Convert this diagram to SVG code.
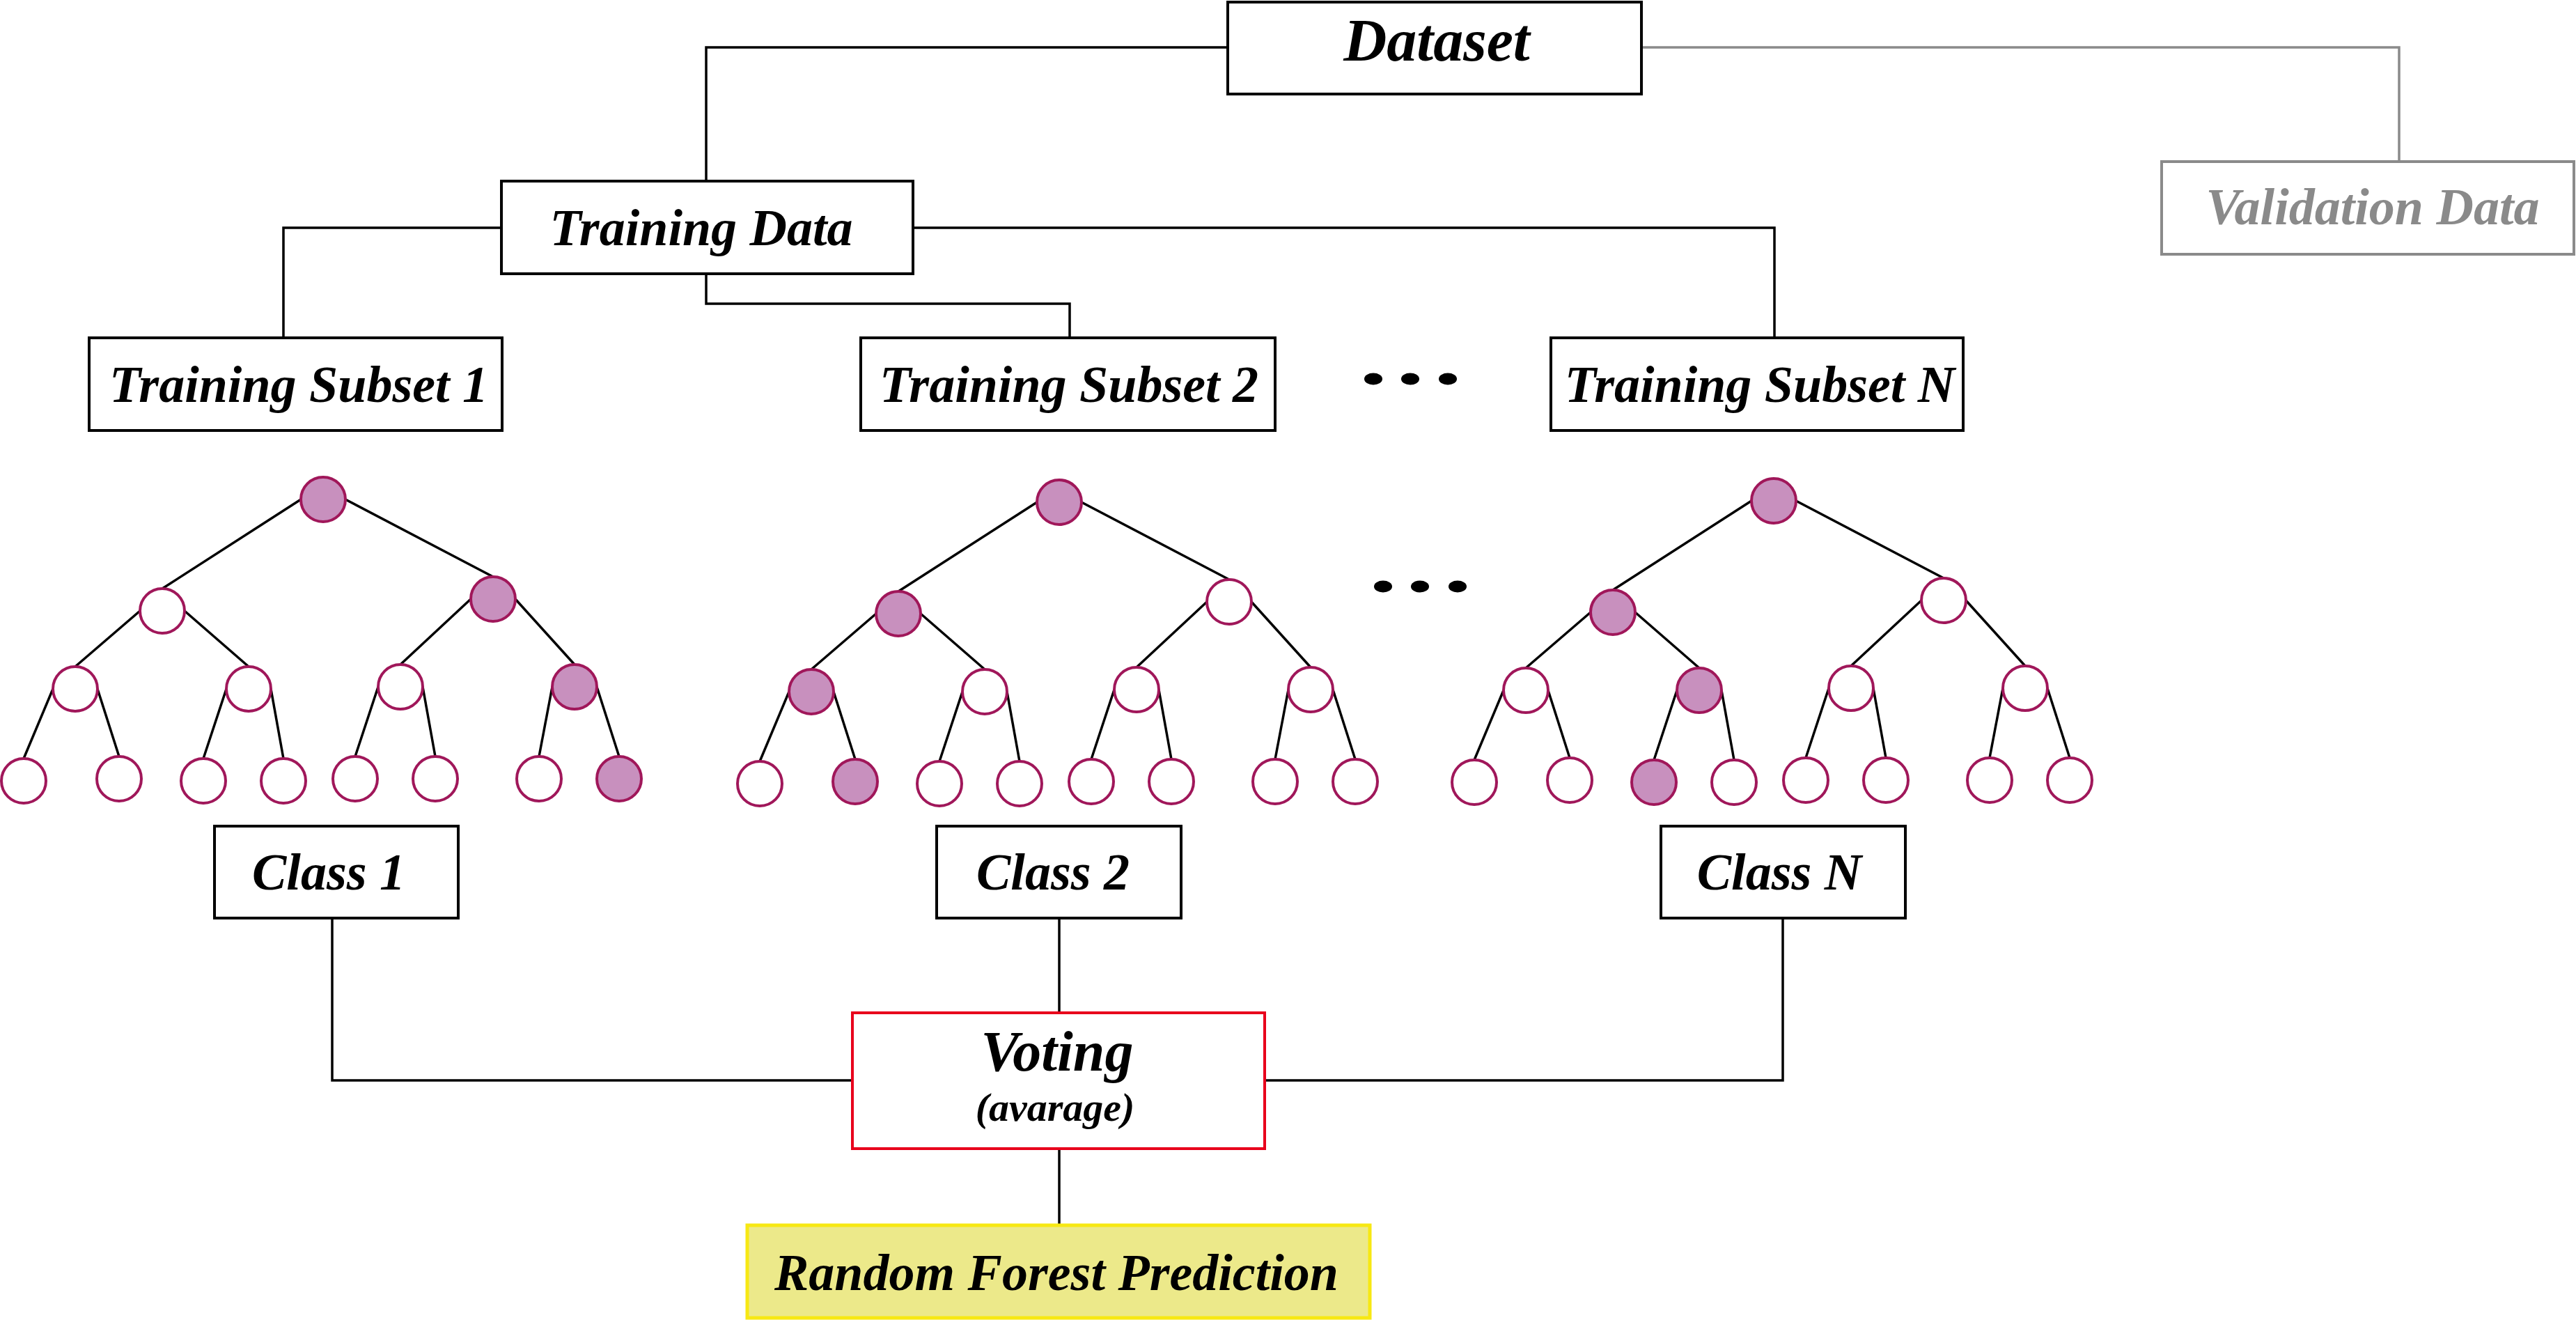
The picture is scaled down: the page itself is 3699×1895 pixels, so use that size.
<svg xmlns="http://www.w3.org/2000/svg" xmlns:xlink="http://www.w3.org/1999/xlink" width="3699" height="1895" viewBox="0 0 3699 1895">
<style>
.box{fill:#fff;stroke:#000;stroke-width:4}
.gbox{fill:#fff;stroke:#8a8a8a;stroke-width:4}
.vbox{fill:#fff;stroke:#e8001c;stroke-width:4}
.pbox{fill:#ece98a;stroke:#f7e813;stroke-width:5}
.lbl{font-family:"Liberation Serif","Times New Roman",serif;font-weight:bold;font-style:italic;font-size:74px;text-anchor:middle;fill:#000}
.glbl{fill:#8a8a8a}
.conn{fill:none;stroke:#000;stroke-width:3.5}
.gconn{fill:none;stroke:#8a8a8a;stroke-width:3.5}
.edge{stroke:#000;stroke-width:3.5}
.n{fill:#fff;stroke:#a0175a;stroke-width:4}
.f{fill:#c890be;stroke:#a0175a;stroke-width:4}
.dot{fill:#000}
</style>
<defs>
<g id="treeEdges">
<line class="edge" x1="-32" y1="0" x2="-231" y2="128"/>
<line class="edge" x1="32" y1="0" x2="244" y2="111"/>
<line class="edge" x1="-263" y1="160" x2="-356" y2="240"/>
<line class="edge" x1="-199" y1="160" x2="-107" y2="240"/>
<line class="edge" x1="212" y1="143" x2="111" y2="237"/>
<line class="edge" x1="276" y1="143" x2="361" y2="237"/>
<line class="edge" x1="-388" y1="272" x2="-430" y2="372"/>
<line class="edge" x1="-324" y1="272" x2="-293" y2="369"/>
<line class="edge" x1="-139" y1="272" x2="-172" y2="372"/>
<line class="edge" x1="-75" y1="272" x2="-57" y2="372"/>
<line class="edge" x1="79" y1="269" x2="46" y2="369"/>
<line class="edge" x1="143" y1="269" x2="161" y2="369"/>
<line class="edge" x1="329" y1="269" x2="310" y2="369"/>
<line class="edge" x1="393" y1="269" x2="425" y2="369"/>
</g>
</defs>

<g id="connectors">
<path class="conn" d="M1763,68 H1014 V260"/>
<path class="gconn" d="M2357,68 H3445 V232"/>
<path class="conn" d="M720,327 H407 V485"/>
<path class="conn" d="M1311,327 H2548 V485"/>
<path class="conn" d="M1014,393 V436 H1536 V485"/>
<path class="conn" d="M477,1318 V1551 H1224"/>
<path class="conn" d="M1521,1318 V1454"/>
<path class="conn" d="M2560,1318 V1551 H1816"/>
<path class="conn" d="M1521,1649 V1759"/>
</g>

<g id="dataset">
<rect class="box" x="1763" y="3" width="594" height="132"/>
<text class="lbl" x="2063" y="87" style="font-size:86px">Dataset</text>
</g>
<g id="validation-data">
<rect class="gbox" x="3104" y="232" width="592" height="133"/>
<text class="lbl glbl" x="3407" y="322">Validation Data</text>
</g>
<g id="training-data">
<rect class="box" x="720" y="260" width="591" height="133"/>
<text class="lbl" x="1007" y="352">Training Data</text>
</g>
<g id="training-subset-1">
<rect class="box" x="128" y="485" width="593" height="133"/>
<text class="lbl" x="429" y="577">Training Subset 1</text>
</g>
<g id="training-subset-2">
<rect class="box" x="1236" y="485" width="595" height="133"/>
<text class="lbl" x="1535" y="577">Training Subset 2</text>
</g>
<g id="training-subset-n">
<rect class="box" x="2227" y="485" width="592" height="133"/>
<text class="lbl" x="2527" y="577">Training Subset N</text>
</g>

<g id="dots-top">
<ellipse class="dot" cx="1972" cy="544" rx="13" ry="8.5"/>
<ellipse class="dot" cx="2025" cy="544" rx="13" ry="8.5"/>
<ellipse class="dot" cx="2079" cy="544" rx="13" ry="8.5"/>
</g>
<g id="dots-mid">
<ellipse class="dot" cx="1986" cy="842" rx="13" ry="8.5"/>
<ellipse class="dot" cx="2039" cy="842" rx="13" ry="8.5"/>
<ellipse class="dot" cx="2093" cy="842" rx="13" ry="8.5"/>
</g>

<g id="tree-1" transform="translate(464,717)">
<use xlink:href="#treeEdges" href="#treeEdges"/>
<circle class="f" cx="0" cy="0" r="32"/>
<circle class="n" cx="-231" cy="160" r="32"/>
<circle class="f" cx="244" cy="143" r="32"/>
<circle class="n" cx="-356" cy="272" r="32"/>
<circle class="n" cx="-107" cy="272" r="32"/>
<circle class="n" cx="111" cy="269" r="32"/>
<circle class="f" cx="361" cy="269" r="32"/>
<circle class="n" cx="-430" cy="404" r="32"/>
<circle class="n" cx="-293" cy="401" r="32"/>
<circle class="n" cx="-172" cy="404" r="32"/>
<circle class="n" cx="-57" cy="404" r="32"/>
<circle class="n" cx="46" cy="401" r="32"/>
<circle class="n" cx="161" cy="401" r="32"/>
<circle class="n" cx="310" cy="401" r="32"/>
<circle class="f" cx="425" cy="401" r="32"/>
</g>

<g id="tree-2" transform="translate(1521,721)">
<use xlink:href="#treeEdges" href="#treeEdges"/>
<circle class="f" cx="0" cy="0" r="32"/>
<circle class="f" cx="-231" cy="160" r="32"/>
<circle class="n" cx="244" cy="143" r="32"/>
<circle class="f" cx="-356" cy="272" r="32"/>
<circle class="n" cx="-107" cy="272" r="32"/>
<circle class="n" cx="111" cy="269" r="32"/>
<circle class="n" cx="361" cy="269" r="32"/>
<circle class="n" cx="-430" cy="404" r="32"/>
<circle class="f" cx="-293" cy="401" r="32"/>
<circle class="n" cx="-172" cy="404" r="32"/>
<circle class="n" cx="-57" cy="404" r="32"/>
<circle class="n" cx="46" cy="401" r="32"/>
<circle class="n" cx="161" cy="401" r="32"/>
<circle class="n" cx="310" cy="401" r="32"/>
<circle class="n" cx="425" cy="401" r="32"/>
</g>

<g id="tree-n" transform="translate(2547,719)">
<use xlink:href="#treeEdges" href="#treeEdges"/>
<circle class="f" cx="0" cy="0" r="32"/>
<circle class="f" cx="-231" cy="160" r="32"/>
<circle class="n" cx="244" cy="143" r="32"/>
<circle class="n" cx="-356" cy="272" r="32"/>
<circle class="f" cx="-107" cy="272" r="32"/>
<circle class="n" cx="111" cy="269" r="32"/>
<circle class="n" cx="361" cy="269" r="32"/>
<circle class="n" cx="-430" cy="404" r="32"/>
<circle class="n" cx="-293" cy="401" r="32"/>
<circle class="f" cx="-172" cy="404" r="32"/>
<circle class="n" cx="-57" cy="404" r="32"/>
<circle class="n" cx="46" cy="401" r="32"/>
<circle class="n" cx="161" cy="401" r="32"/>
<circle class="n" cx="310" cy="401" r="32"/>
<circle class="n" cx="425" cy="401" r="32"/>
</g>

<g id="class-1">
<rect class="box" x="308" y="1186" width="350" height="132"/>
<text class="lbl" x="472" y="1277">Class 1</text>
</g>
<g id="class-2">
<rect class="box" x="1345" y="1186" width="351" height="132"/>
<text class="lbl" x="1512" y="1277">Class 2</text>
</g>
<g id="class-n">
<rect class="box" x="2385" y="1186" width="351" height="132"/>
<text class="lbl" x="2555" y="1277">Class N</text>
</g>

<g id="voting">
<rect class="vbox" x="1224" y="1454" width="592" height="195"/>
<text class="lbl" x="1518" y="1537" style="font-size:82px">Voting</text>
<text class="lbl" x="1515" y="1609" style="font-size:58px">(avarage)</text>
</g>

<g id="random-forest-prediction">
<rect class="pbox" x="1073" y="1759" width="894" height="133"/>
<text class="lbl" x="1517" y="1852">Random Forest Prediction</text>
</g>
</svg>
